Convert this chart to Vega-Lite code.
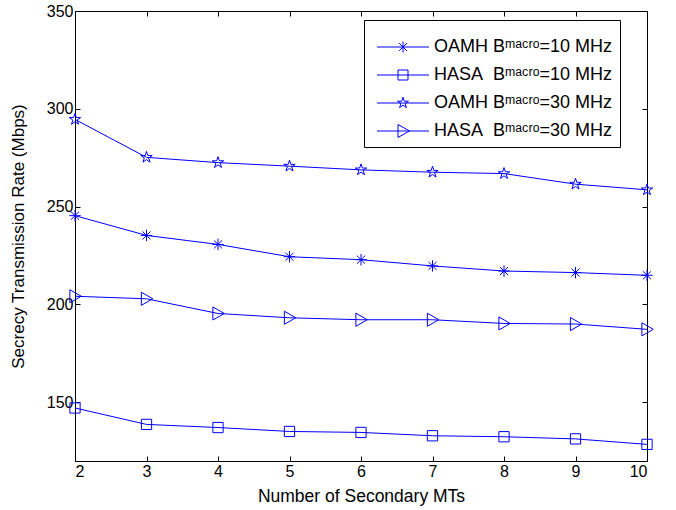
{
  "$schema": "https://vega.github.io/schema/vega-lite/v6.json",
  "width": 572,
  "height": 450,
  "autosize": {"type": "none"},
  "padding": {"left": 75, "top": 11, "right": 29, "bottom": 49},
  "background": "white",
  "config": {
    "view": {"stroke": "black", "strokeWidth": 1},
    "font": "Liberation Sans",
    "axis": {
      "grid": false,
      "domainColor": "black",
      "tickColor": "black",
      "labelColor": "black",
      "titleColor": "black",
      "labelFont": "Liberation Sans",
      "titleFont": "Liberation Sans",
      "labelFontSize": 16,
      "titleFontSize": 17,
      "titleFontWeight": "normal",
      "tickSize": -5,
      "labelPadding": 7
    },
    "legend": {
      "labelFont": "Liberation Sans",
      "labelFontSize": 18,
      "labelColor": "black"
    }
  },
  "data": {
    "values": [
      {"n": 2, "rate": 245.4, "s": "OAMH10"},
      {"n": 3, "rate": 235.3, "s": "OAMH10"},
      {"n": 4, "rate": 230.7, "s": "OAMH10"},
      {"n": 5, "rate": 224.4, "s": "OAMH10"},
      {"n": 6, "rate": 222.9, "s": "OAMH10"},
      {"n": 7, "rate": 219.7, "s": "OAMH10"},
      {"n": 8, "rate": 217.1, "s": "OAMH10"},
      {"n": 9, "rate": 216.3, "s": "OAMH10"},
      {"n": 10, "rate": 214.9, "s": "OAMH10"},
      {"n": 2, "rate": 147.1, "s": "HASA10"},
      {"n": 3, "rate": 138.7, "s": "HASA10"},
      {"n": 4, "rate": 137.1, "s": "HASA10"},
      {"n": 5, "rate": 135.1, "s": "HASA10"},
      {"n": 6, "rate": 134.6, "s": "HASA10"},
      {"n": 7, "rate": 132.9, "s": "HASA10"},
      {"n": 8, "rate": 132.4, "s": "HASA10"},
      {"n": 9, "rate": 131.3, "s": "HASA10"},
      {"n": 10, "rate": 128.5, "s": "HASA10"},
      {"n": 2, "rate": 294.6, "s": "OAMH30"},
      {"n": 3, "rate": 275.2, "s": "OAMH30"},
      {"n": 4, "rate": 272.5, "s": "OAMH30"},
      {"n": 5, "rate": 270.7, "s": "OAMH30"},
      {"n": 6, "rate": 268.8, "s": "OAMH30"},
      {"n": 7, "rate": 267.6, "s": "OAMH30"},
      {"n": 8, "rate": 266.9, "s": "OAMH30"},
      {"n": 9, "rate": 261.5, "s": "OAMH30"},
      {"n": 10, "rate": 258.6, "s": "OAMH30"},
      {"n": 2, "rate": 204.2, "s": "HASA30"},
      {"n": 3, "rate": 202.9, "s": "HASA30"},
      {"n": 4, "rate": 195.4, "s": "HASA30"},
      {"n": 5, "rate": 193.2, "s": "HASA30"},
      {"n": 6, "rate": 192.2, "s": "HASA30"},
      {"n": 7, "rate": 192.2, "s": "HASA30"},
      {"n": 8, "rate": 190.3, "s": "HASA30"},
      {"n": 9, "rate": 190.0, "s": "HASA30"},
      {"n": 10, "rate": 187.3, "s": "HASA30"}
    ]
  },
  "transform": [{"calculate": "datum.s", "as": "marker"}],
  "resolve": {"axis": {"x": "independent", "y": "independent"}},
  "layer": [
    {
      "mark": {"type": "line", "color": "#0000ff", "strokeWidth": 1},
      "encoding": {
        "x": {"field": "n", "type": "quantitative", "scale": {"domain": [2, 10], "nice": false},
              "axis": {"orient": "bottom", "values": [2,3,4,5,6,7,8,9,10], "title": "Number of Secondary MTs", "titlePadding": 8, "titleFontSize": 17.5}},
        "y": {"field": "rate", "type": "quantitative", "scale": {"domain": [120, 350], "nice": false, "zero": false},
              "axis": {"orient": "left", "values": [150,200,250,300,350], "title": "Secrecy Transmission Rate (Mbps)", "titlePadding": 19}},
        "detail": {"field": "s", "type": "nominal"}
      }
    },
    {
      "mark": {"type": "point", "filled": false, "strokeWidth": 1, "opacity": 1, "size": 130},
      "encoding": {
        "x": {"field": "n", "type": "quantitative", "scale": {"domain": [2, 10], "nice": false},
              "axis": {"orient": "top", "values": [2,3,4,5,6,7,8,9,10], "labels": false, "title": null}},
        "y": {"field": "rate", "type": "quantitative", "scale": {"domain": [120, 350], "nice": false, "zero": false},
              "axis": {"orient": "right", "values": [150,200,250,300,350], "labels": false, "title": null}},
        "shape": {
          "field": "marker", "type": "nominal", "legend": null,
          "scale": {
            "domain": ["HASA30", "OAMH30", "HASA10", "OAMH10"],
            "range": [
              "M-0.9,-1.15L1.1,0L-0.9,1.15Z",
              "M0,-1.05L0.24,-0.32L1,-0.32L0.38,0.12L0.62,0.85L0,0.4L-0.62,0.85L-0.38,0.12L-1,-0.32L-0.24,-0.32Z",
              "M-0.9,-0.9L0.9,-0.9L0.9,0.9L-0.9,0.9Z",
              "M0,-1L0,1M-1,0L1,0M-0.71,-0.71L0.71,0.71M-0.71,0.71L0.71,-0.71"
            ]
          }
        },
        "color": {
          "field": "s", "type": "nominal",
          "scale": {
            "domain": ["OAMH10", "HASA10", "OAMH30", "HASA30"],
            "range": ["#0000ff", "#0000ff", "#0000ff", "#0000ff"]
          },
          "legend": {
            "orient": "none",
            "legendX": 289,
            "legendY": 9,
            "title": " ",
            "titleFontSize": 5,
            "titlePadding": 6,
            "padding": 7,
            "symbolOffset": 23,
            "labelOffset": 22,
            "labelLimit": 400,
            "rowPadding": 10,
            "strokeColor": "black",
            "fillColor": "white",
            "symbolStrokeColor": "#0000ff",
            "symbolFillColor": "transparent",
            "symbolStrokeWidth": 1,
            "symbolSize": 100,
            "symbolType": {"expr": "datum.value == 'OAMH10' ? 'M-5.2,0L5.2,0M0,-1.1L0,1.1M-0.78,-0.78L0.78,0.78M-0.78,0.78L0.78,-0.78' : datum.value == 'HASA10' ? 'M-5.2,0L5.2,0M-1,-1L1,-1L1,1L-1,1Z' : datum.value == 'OAMH30' ? 'M-5.2,0L5.2,0M0,-1.15L0.26,-0.36L1.09,-0.36L0.42,0.14L0.68,0.93L0,0.44L-0.68,0.93L-0.42,0.14L-1.09,-0.36L-0.26,-0.36Z' : 'M-5.2,0L5.2,0M-1,-1.3L1.3,0L-1,1.3Z'"},
            "labelExpr": "datum.value == 'OAMH10' ? 'OAMH B\u1d50\u1d43\u1d9c\u02b3\u1d52=10 MHz' : datum.value == 'HASA10' ? 'HASA\u00a0 B\u1d50\u1d43\u1d9c\u02b3\u1d52=10 MHz' : datum.value == 'OAMH30' ? 'OAMH B\u1d50\u1d43\u1d9c\u02b3\u1d52=30 MHz' : 'HASA\u00a0 B\u1d50\u1d43\u1d9c\u02b3\u1d52=30 MHz'"
          }
        }
      }
    }
  ]
}
